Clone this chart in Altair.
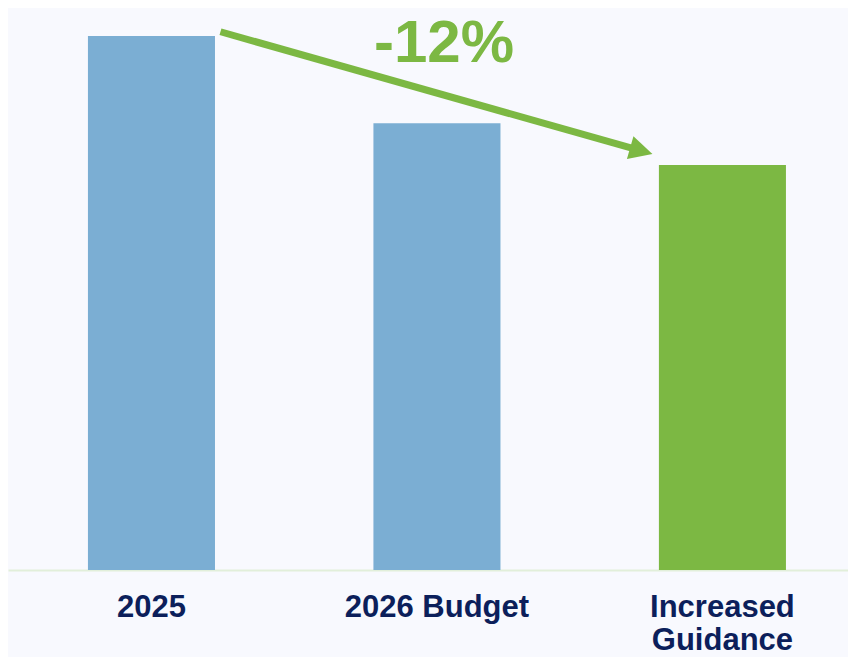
import altair as alt
import pandas as pd

# ---- data ----
categories = ["2025", "2026 Budget", "Increased Guidance"]
values = [100.0, 91.9, 88.0]
bar_colors = ["#7BAED3", "#7BAED3", "#7CB843"]
change_label = "-12%"
arrow_from = "2025"
arrow_to = "Increased Guidance"
arrow_y = [100.4, 89.03]   # arrow start / tip level (value units)
change_label_y = 97.55
y_domain = [50.33, 102.61]

green = "#7CB843"
navy = "#0C1F5B"
bg = "#F8F9FE"

df = pd.DataFrame({"cat": categories, "value": values, "base": [y_domain[0]] * len(categories)})
arrow_df = pd.DataFrame({
    "start_cat": [arrow_from], "end_cat": [arrow_to],
    "start_y": [arrow_y[0]], "end_y": [arrow_y[1]],
})
label_df = pd.DataFrame({"cat": ["2026 Budget"], "y": [change_label_y], "t": [change_label]})

x_scale = alt.Scale(domain=categories, paddingInner=0.555, paddingOuter=0.2487, align=0.563)
y_scale = alt.Scale(domain=y_domain, zero=False, nice=False)

x_axis = alt.Axis(
    title=None, labelAngle=0, ticks=False, tickSize=0, grid=False,
    domain=True, domainColor="#E2EFDA", domainWidth=2,
    labelFont="Liberation Sans", labelFontWeight="bold", labelFontSize=31,
    labelColor=navy, labelPadding=22, labelLineHeight=33, labelLimit=0,
    labelOverlap=False,
    labelExpr="datum.label == 'Increased Guidance' ? ['Increased', 'Guidance'] : datum.label",
)

bars = alt.Chart(df).mark_bar().encode(
    x=alt.X("cat:N", scale=x_scale, axis=x_axis, sort=categories),
    y=alt.Y("value:Q", scale=y_scale, axis=None),
    y2="base:Q",
    color=alt.Color("cat:N", scale=alt.Scale(domain=categories, range=bar_colors), legend=None),
)

rule = alt.Chart(arrow_df).mark_rule(
    color=green, strokeWidth=7, strokeCap="butt",
    xOffset=69, x2Offset=-88, y2Offset=-5,
).encode(
    x=alt.X("start_cat:N"),
    x2="end_cat:N",
    y=alt.Y("start_y:Q"),
    y2="end_y:Q",
)

head = alt.Chart(arrow_df).mark_point(
    shape="M0,0L-1.96,-1L-1.96,1Z", size=557, filled=True, opacity=1,
    color=green, angle=16, xOffset=-70, strokeWidth=0,
).encode(
    x=alt.X("end_cat:N"),
    y=alt.Y("end_y:Q"),
)

txt = alt.Chart(label_df).mark_text(
    font="Liberation Sans", fontWeight="bold", fontSize=60, color=green,
    dx=7, baseline="alphabetic", align="center",
).encode(
    x=alt.X("cat:N"),
    y=alt.Y("y:Q"),
    text="t:N",
)

chart = alt.layer(bars, rule, head, txt).properties(
    width=840, height=562,
    autosize=alt.AutoSizeParams(type="none"),
    padding={"left": 0, "top": 0, "right": 0, "bottom": 87},
    background=bg,
).configure_view(stroke=None)

chart.save("out.html", embed_options={"renderer": "svg", "actions": False})
